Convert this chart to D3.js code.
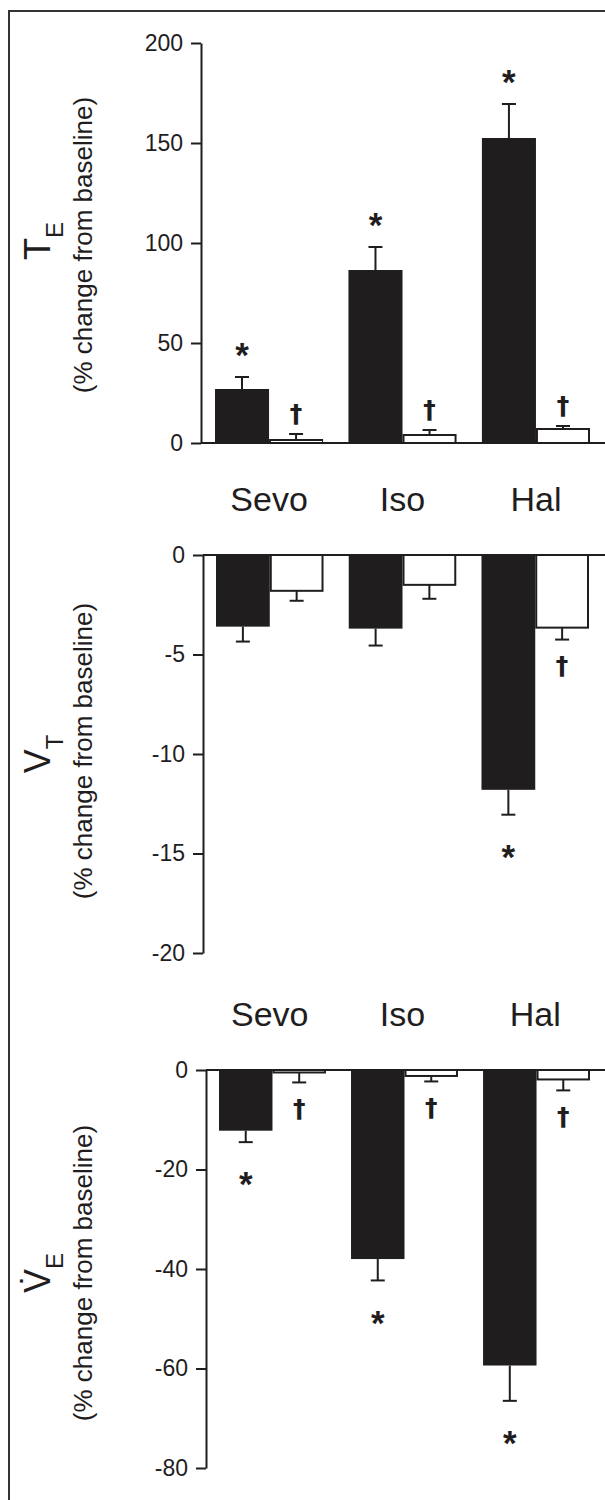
<!DOCTYPE html>
<html>
<head>
<meta charset="utf-8">
<script src="https://cdn.jsdelivr.net/npm/d3@7"></script>
<style>
  body { margin: 0; background: #fff; }
  svg { display: block; font-family: "Liberation Sans", Arial, sans-serif; }
</style>
</head>
<body>
<svg id="chart" width="605" height="1500"></svg>
<script>
// values (mean, error bar length, significance mark)
const agents = ["Sevo", "Iso", "Hal"];

const teFilled = [27, 86.5, 152.5];
const teFilledErr = [6, 11.5, 17];
const teOpen = [1.5, 4, 7];
const teOpenErr = [3, 2.5, 1.5];
const teFilledMark = ["*", "*", "*"];
const teOpenMark = ["\u2020", "\u2020", "\u2020"];
const teTicks = [0, 50, 100, 150, 200];

const vtFilled = [-3.6, -3.7, -11.8];
const vtFilledErr = [0.75, 0.85, 1.25];
const vtOpen = [-1.8, -1.5, -3.65];
const vtOpenErr = [0.5, 0.7, 0.6];
const vtFilledMark = ["", "", "*"];
const vtOpenMark = ["", "", "\u2020"];
const vtTicks = [0, -5, -10, -15, -20];

const veFilled = [-12.2, -38, -59.4];
const veFilledErr = [2.3, 4.3, 7.1];
const veOpen = [-0.5, -1.2, -1.9];
const veOpenErr = [2, 1.1, 2.2];
const veFilledMark = ["*", "*", "*"];
const veOpenMark = ["\u2020", "\u2020", "\u2020"];
const veTicks = [0, -20, -40, -60, -80];

const ink = "#1f1d1e";

// panel layout
const panels = [
  { sym: "T", sub: "E", domain: [0, 200], range: [443, 43], ticks: teTicks,
    axisX: 201, xr: [215, 590], symY: 241, subY: 245, labelY: 511,
    filled: teFilled, filledErr: teFilledErr, open: teOpen, openErr: teOpenErr,
    filledMark: teFilledMark, openMark: teOpenMark },
  { sym: "V", sub: "T", domain: [-20, 0], range: [953, 555], ticks: vtTicks,
    axisX: 203, xr: [216, 589], symY: 754, subY: 751, labelY: 1026,
    filled: vtFilled, filledErr: vtFilledErr, open: vtOpen, openErr: vtOpenErr,
    filledMark: vtFilledMark, openMark: vtOpenMark },
  { sym: "V\u0307", sub: "E", domain: [-80, 0], range: [1468, 1070], ticks: veTicks,
    axisX: 206, xr: [219, 590], symY: 1273, subY: 1273, labelY: null,
    filled: veFilled, filledErr: veFilledErr, open: veOpen, openErr: veOpenErr,
    filledMark: veFilledMark, openMark: veOpenMark }
];

const svg = d3.select("#chart");

// frame
svg.append("path")
  .attr("d", "M9,1500V11H605")
  .attr("fill", "none")
  .attr("stroke", "#333")
  .attr("stroke-width", 2);

panels.forEach(p => {
  const y = d3.scaleLinear().domain(p.domain).range(p.range);
  const x = d3.scaleBand().domain(agents).range(p.xr).paddingInner(0.19);
  const xs = d3.scaleBand().domain(["filled", "open"]).range([0, x.bandwidth()]);

  const g = svg.append("g");

  // rows of bars
  const rows = [];
  agents.forEach((a, i) => {
    rows.push({ agent: a, s: "filled", v: p.filled[i], e: p.filledErr[i], m: p.filledMark[i] });
    rows.push({ agent: a, s: "open", v: p.open[i], e: p.openErr[i], m: p.openMark[i] });
  });
  const cx = d => x(d.agent) + xs(d.s) + xs.bandwidth() / 2;
  const tip = d => d.v + Math.sign(d.v) * d.e;

  // error bars
  const eb = g.append("g").attr("stroke", ink).attr("stroke-width", 2);
  eb.selectAll("line.v").data(rows).join("line")
    .attr("class", "v")
    .attr("x1", cx).attr("x2", cx)
    .attr("y1", d => y(d.v)).attr("y2", d => y(tip(d)));
  eb.selectAll("line.c").data(rows).join("line")
    .attr("class", "c")
    .attr("x1", d => cx(d) - 7).attr("x2", d => cx(d) + 7)
    .attr("y1", d => y(tip(d))).attr("y2", d => y(tip(d)));

  // bars
  g.selectAll("rect").data(rows).join("rect")
    .attr("x", d => x(d.agent) + xs(d.s) + (d.s === "open" ? 1 : 0))
    .attr("width", d => xs.bandwidth() - (d.s === "open" ? 2 : 0))
    .attr("y", d => Math.min(y(0), y(d.v)))
    .attr("height", d => Math.abs(y(d.v) - y(0)))
    .attr("fill", d => d.s === "filled" ? ink : "#fff")
    .attr("stroke", d => d.s === "filled" ? "none" : ink)
    .attr("stroke-width", 2);

  // significance marks
  g.selectAll("text.mark").data(rows.filter(d => d.m)).join("text")
    .attr("class", "mark")
    .attr("x", cx)
    .attr("y", d => {
      const star = d.m === "*";
      const off = star ? (d.v > 0 ? -29 : 35) : (d.v > 0 ? -20 : 27);
      const centre = y(tip(d)) + off;
      return centre + (star ? 0.55 * 35 : 0.3 * 25);
    })
    .attr("text-anchor", "middle")
    .attr("font-family", d => d.m === "*" ? null : "'DejaVu Sans', sans-serif")
    .attr("font-weight", "bold")
    .attr("font-size", d => d.m === "*" ? 35 : 25)
    .attr("fill", ink)
    .text(d => d.m);

  // zero line
  g.append("line")
    .attr("x1", p.axisX).attr("x2", 605)
    .attr("y1", y(0)).attr("y2", y(0))
    .attr("stroke", ink).attr("stroke-width", 2);

  // y axis
  const ax = g.append("g")
    .attr("transform", `translate(${p.axisX},0)`)
    .call(d3.axisLeft(y).tickValues(p.ticks).tickFormat(d => String(d))
      .tickSize(10).tickSizeOuter(0).tickPadding(8));
  ax.select(".domain").attr("stroke", ink).attr("stroke-width", 2);
  ax.selectAll(".tick line").attr("stroke", ink).attr("stroke-width", 2);
  ax.selectAll(".tick text")
    .attr("font-family", "'Liberation Sans', Arial, sans-serif")
    .attr("font-size", 23)
    .attr("fill", ink);

  // y title: symbol with subscript, then unit line
  const sym = g.append("text")
    .attr("transform", `translate(50,${p.symY}) rotate(-90)`)
    .attr("text-anchor", "middle")
    .attr("fill", ink);
  sym.append("tspan").attr("font-size", 36).text(p.sym);
  sym.append("tspan").attr("font-size", 24).attr("dy", 13).text(p.sub);

  g.append("text")
    .attr("transform", `translate(92,${p.subY}) rotate(-90)`)
    .attr("text-anchor", "middle")
    .attr("font-size", 26)
    .attr("fill", ink)
    .text("(% change from baseline)");

  // agent labels under the panel
  if (p.labelY) {
    g.selectAll("text.agent").data(agents).join("text")
      .attr("class", "agent")
      .attr("x", d => x(d) + x.bandwidth() / 2)
      .attr("y", p.labelY)
      .attr("text-anchor", "middle")
      .attr("font-size", 34)
      .attr("fill", ink)
      .text(d => d);
  }
});
</script>
</body>
</html>
